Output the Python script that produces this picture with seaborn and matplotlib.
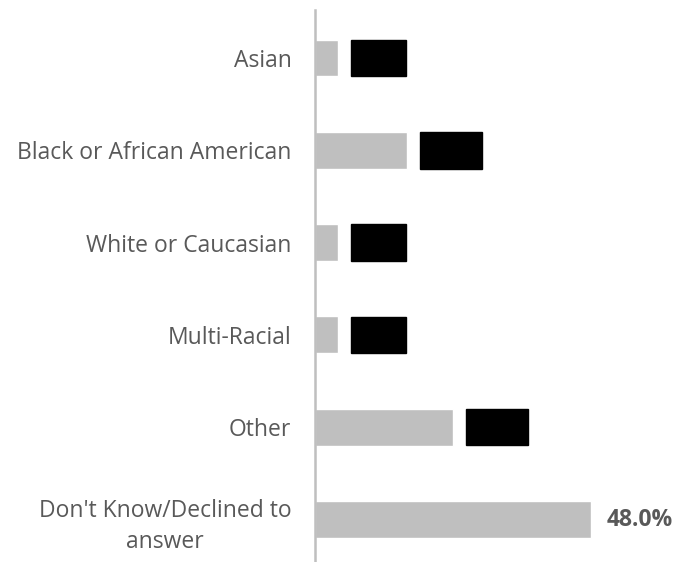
import matplotlib
matplotlib.use("Agg")
import matplotlib.pyplot as plt
import seaborn as sns
import pandas as pd

categories = ["Asian", "Black or African American", "White or Caucasian",
              "Multi-Racial", "Other", "Don't Know/Declined to\nanswer"]
values = [4.0, 16.0, 4.0, 4.0, 24.0, 48.0]
labels = ["4.0%", "16.0%", "4.0%", "4.0%", "24.0%", "48.0%"]
redacted = [True, True, True, True, True, False]

df = pd.DataFrame({"group": categories, "pct": values})

sns.set_style("white")
plt.rcParams["font.family"] = ["Open Sans", "DejaVu Sans"]

fig = plt.figure(figsize=(6.74, 5.62), dpi=100)
ax = fig.add_axes([315 / 674, 0, 359 / 674, 552 / 562])

sns.barplot(data=df, y="group", x="pct", orient="h", color="#BFBFBF",
            width=0.4, saturation=1, ax=ax)

ax.set_xlim(0, 359 / 5.75)
ax.set_ylim(5.46, -0.52)
ax.set_xlabel("")
ax.set_ylabel("")
ax.set_xticks([])
ax.tick_params(axis="y", length=0, pad=17, labelsize=16.5, labelcolor="#595959")
for t in ax.get_yticklabels():
    t.set_multialignment("center")
    t.set_linespacing(1.4)

for s in ["top", "right", "bottom"]:
    ax.spines[s].set_visible(False)
ax.spines["left"].set_color("#BFBFBF")
ax.spines["left"].set_linewidth(1.8)

# value labels; most are blacked out in the reference
texts = ax.bar_label(ax.containers[0], labels=labels, padding=11.5,
                     fontsize=16.5, fontweight="bold", color="#595959")
for t, hide in zip(texts, redacted):
    if hide:
        t.set_color("black")
        t.set_fontsize(9.6)
        t.set_bbox(dict(facecolor="black", edgecolor="black",
                        boxstyle="square,pad=0.88"))
        t.xyann = (18.0, 0)

fig.savefig("out.png", dpi=100)
